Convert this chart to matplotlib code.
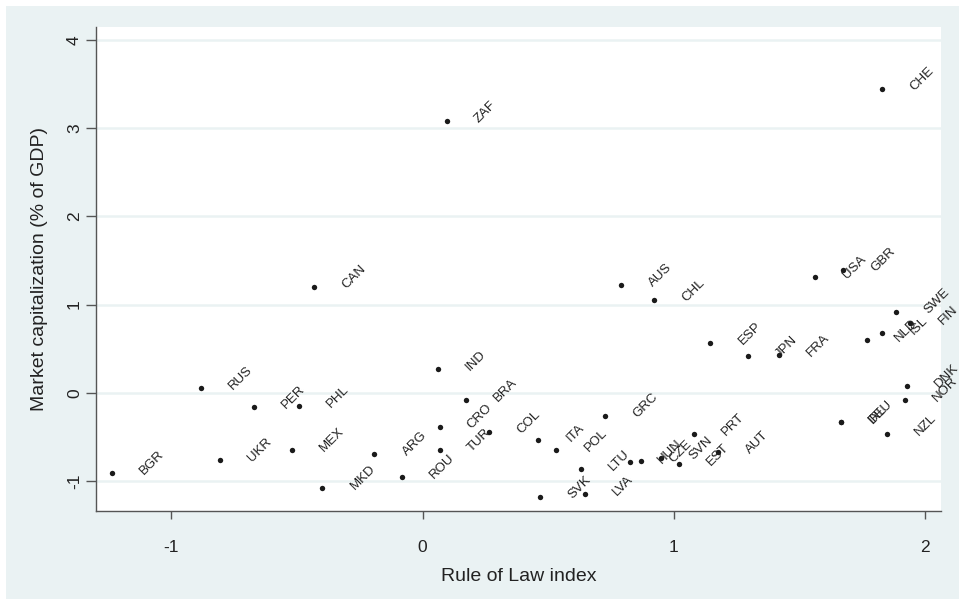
import matplotlib
matplotlib.use("Agg")
import matplotlib.pyplot as plt
from matplotlib.patches import Rectangle

countries = ["BGR", "RUS", "PER", "PHL", "UKR", "MEX", "MKD", "ARG", "ROU", "IND",
             "BRA", "CRO", "TUR", "COL", "ITA", "POL", "GRC", "LTU", "SVK", "LVA",
             "HUN", "CZE", "SVN", "EST", "PRT", "AUT", "AUS", "CHL", "USA", "GBR",
             "ESP", "JPN", "FRA", "NLD", "ISL", "SWE", "FIN", "DNK", "NOR", "IRL",
             "DEU", "NZL", "CHE", "ZAF", "CAN"]
rule_of_law = [-1.238, -0.884, -0.673, -0.493, -0.808, -0.519, -0.399, -0.192, -0.083, 0.061,
               0.173, 0.068, 0.068, 0.266, 0.460, 0.532, 0.726, 0.631, 0.469, 0.646,
               0.826, 0.869, 0.949, 1.020, 1.080, 1.175, 0.790, 0.922, 1.560, 1.673,
               1.145, 1.293, 1.419, 1.769, 1.828, 1.884, 1.941, 1.928, 1.918, 1.664,
               1.666, 1.848, 1.830, 0.096, -0.431]
market_cap = [-0.906, 0.051, -0.158, -0.146, -0.762, -0.652, -1.083, -0.690, -0.958, 0.273,
              -0.085, -0.384, -0.645, -0.448, -0.535, -0.652, -0.266, -0.867, -1.185, -1.142,
              -0.788, -0.773, -0.739, -0.807, -0.467, -0.671, 1.222, 1.056, 1.316, 1.389,
              0.561, 0.421, 0.429, 0.604, 0.675, 0.914, 0.795, 0.079, -0.085, -0.334,
              -0.331, -0.465, 3.441, 3.082, 1.203]
x_ticks = [-1, 0, 1, 2]
y_ticks = [-1, 0, 1, 2, 3, 4]

plt.rcParams['font.family'] = ['Liberation Sans', 'DejaVu Sans']

fig = plt.figure(figsize=(9.59, 5.99), dpi=100)
fig.patch.set_facecolor('white')
bg = '#EAF2F3'
fig.patches.append(Rectangle((6/959, 0), 1, 1 - 6/599, transform=fig.transFigure,
                             facecolor=bg, edgecolor='none', zorder=-10))

ax = fig.add_axes([96/959, 1 - 511/599, (941-96)/959, (511-27)/599])
ax.set_facecolor('white')
ax.set_xlim(-1.300, 2.063)
ax.set_ylim(-1.340, 4.147)

for yv in y_ticks:
    ax.axhline(yv, color=bg, lw=1.8, zorder=0)

ax.scatter(rule_of_law, market_cap, s=15, color='#1a1a1a', zorder=3, linewidths=0)
for c, xv, yv in zip(countries, rule_of_law, market_cap):
    ax.annotate(c, (xv, yv), xytext=(30, 0), textcoords='offset pixels',
                rotation=45, rotation_mode='anchor', ha='left', va='center',
                fontsize=9.5, color='#222222', annotation_clip=False, zorder=4)

for s in ['top', 'right']:
    ax.spines[s].set_visible(False)
for s in ['left', 'bottom']:
    ax.spines[s].set_color('#555555')
    ax.spines[s].set_linewidth(1.0)

ax.set_xticks(x_ticks)
ax.set_xticklabels([str(v) for v in x_ticks])
ax.set_yticks(y_ticks)
ax.set_yticklabels([str(v) for v in y_ticks], rotation=90, va='center')
ax.tick_params(axis='x', length=6, width=1, color='#555555', pad=15, labelsize=12.5, labelcolor='#222222')
ax.tick_params(axis='y', length=7, width=1, color='#555555', pad=3, labelsize=12.5, labelcolor='#222222')

ax.set_xlabel("Rule of Law index", fontsize=14, color='#222222', labelpad=9)
ax.set_ylabel("Market capitalization (% of GDP)", fontsize=14, color='#222222', labelpad=14)

fig.savefig("out.png", dpi=100, facecolor=fig.get_facecolor())
